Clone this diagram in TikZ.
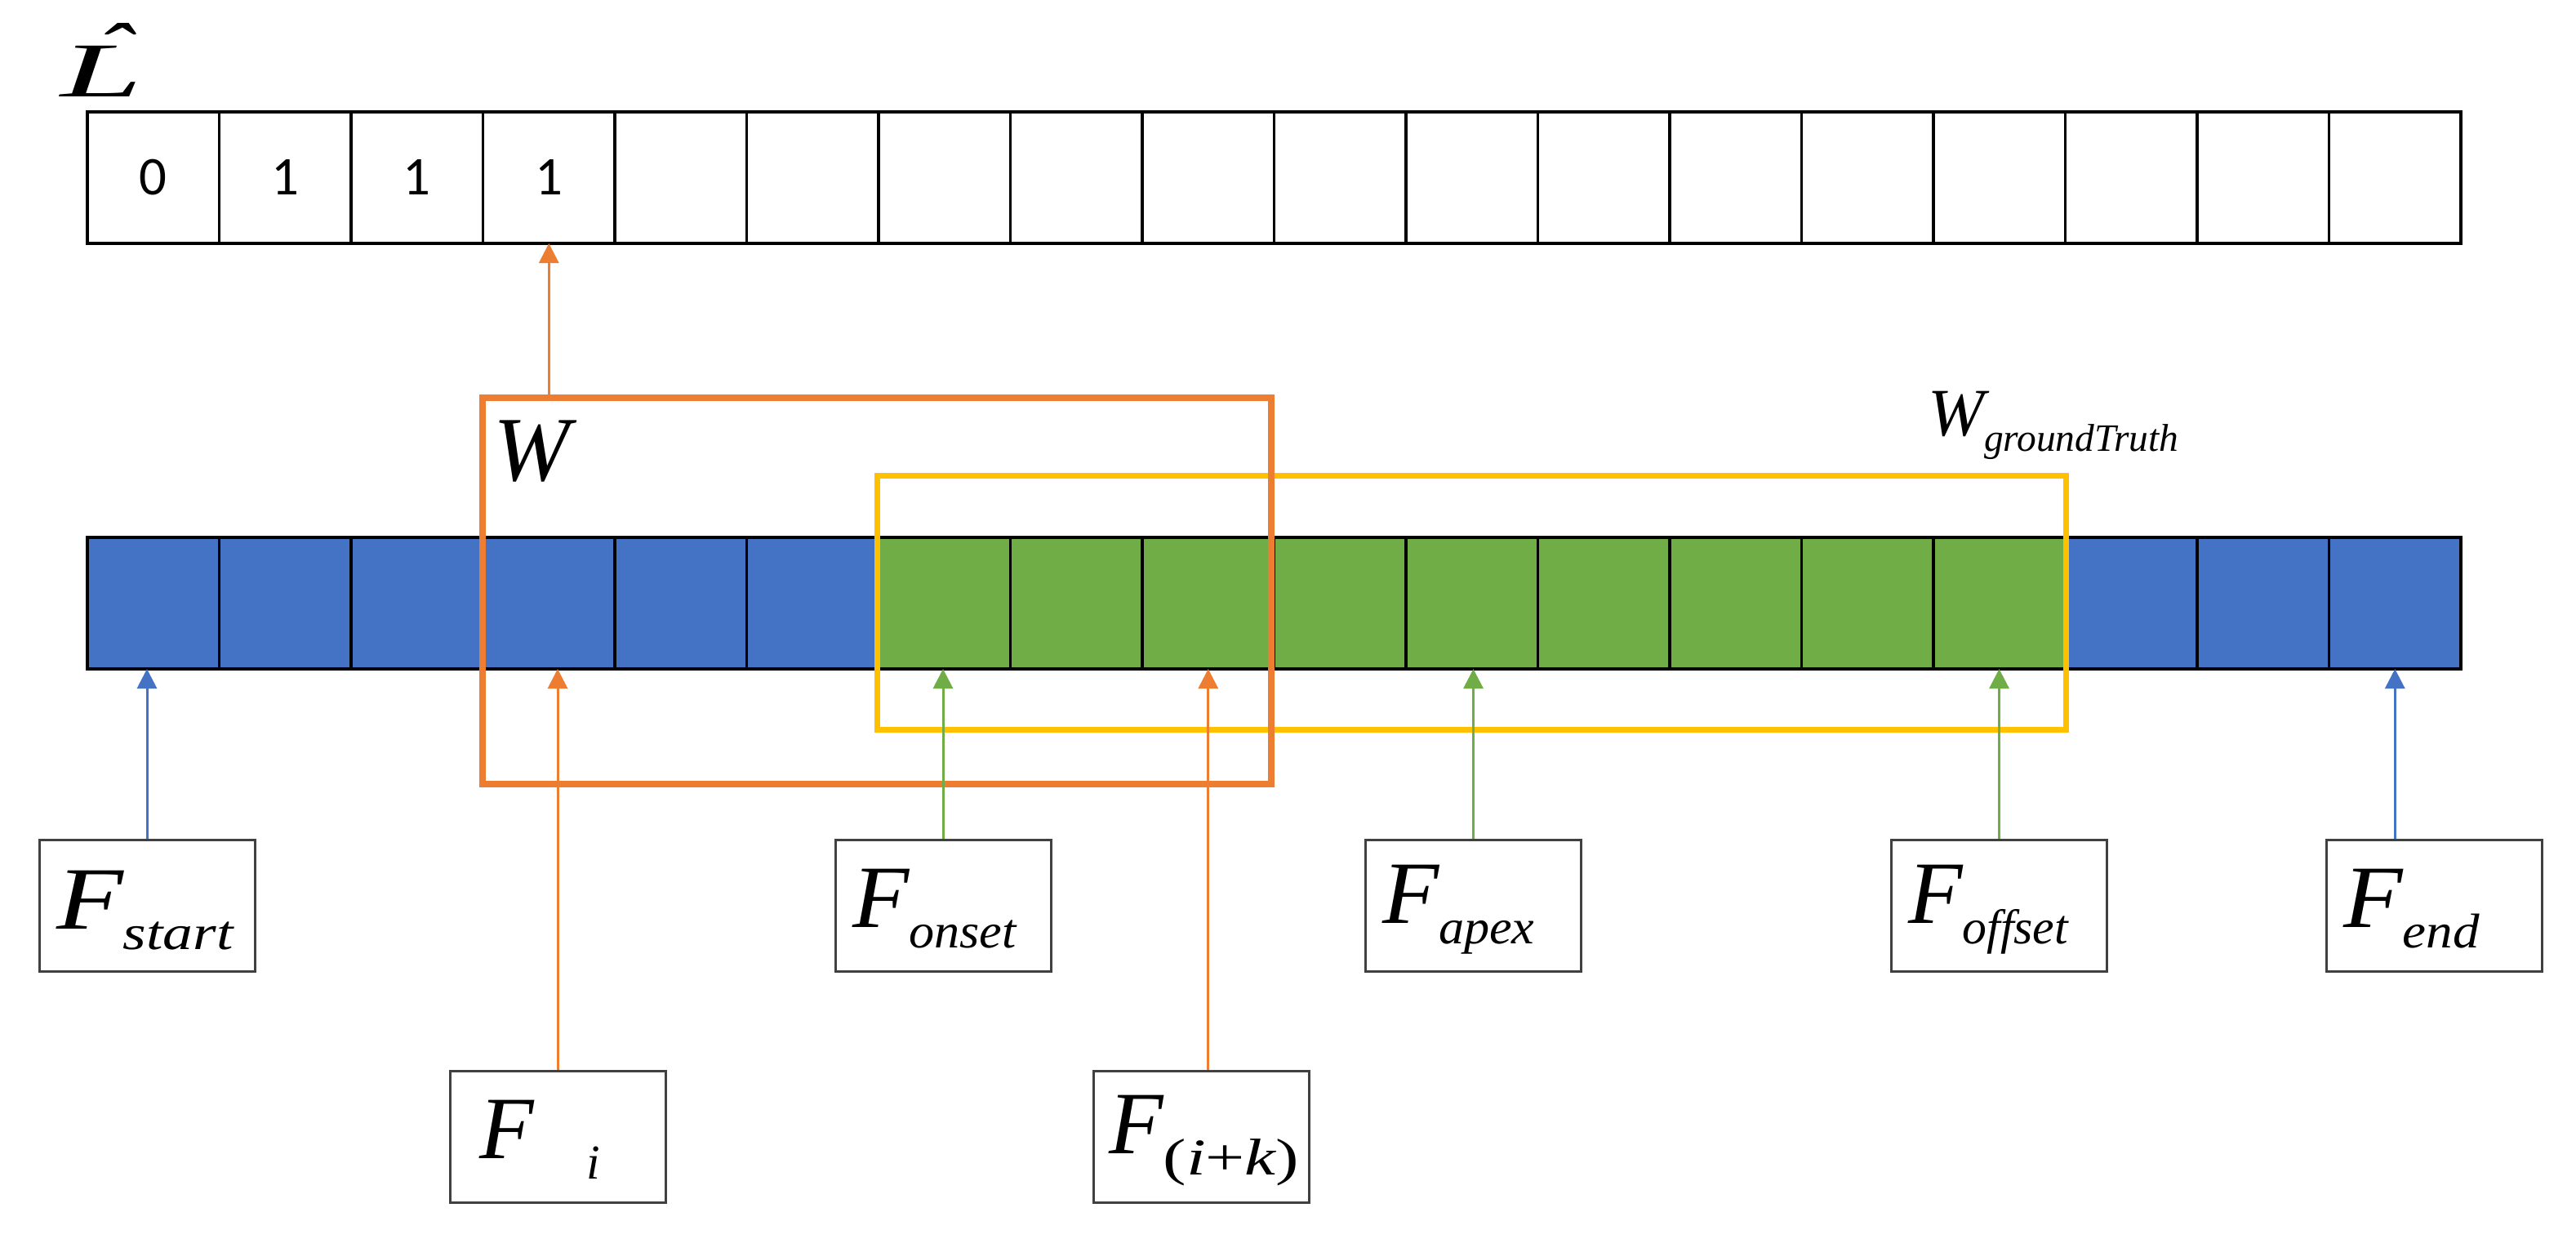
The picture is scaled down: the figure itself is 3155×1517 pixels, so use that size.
\documentclass[tikz,border=0pt]{standalone}
\usepackage{fontspec}
\setmainfont{Liberation Serif}
\newfontfamily\digitfont{Carlito}
\usepackage{graphicx}
\usetikzlibrary{arrows.meta}
\newlength\pxu \setlength\pxu{0.1mm}
\definecolor{cblue}{HTML}{4472C4}
\definecolor{cgreen}{HTML}{70AD47}
\definecolor{corange}{HTML}{ED7D31}
\definecolor{cyellow}{HTML}{FFC000}
\newcommand{\Fsub}[2]{\scalebox{#1}[1]{\fontsize{31}{31}\selectfont\itshape F\raisebox{-25\pxu}{\fontsize{17}{17}\selectfont #2}}}
\tikzset{
  cellbase/.style={draw=black, line width=0.35mm, minimum width=16.15mm, minimum height=16.1mm, inner sep=0pt, outer sep=0pt, anchor=north west},
  topcell/.style={cellbase, fill=white},
  bluecell/.style={cellbase, fill=cblue},
  greencell/.style={cellbase, fill=cgreen},
  fbox/.style={draw=black!75, line width=0.3mm, minimum width=26.4mm, minimum height=16.1mm, inner sep=0pt, fill=white},
  conn/.style={line width=0.3mm, -{Triangle[length=2.4mm, width=2.4mm]}},
  lab/.style={anchor=base west, inner sep=0pt, outer sep=0pt},
  digit/.style={font=\digitfont\fontsize{19}{19}\selectfont, inner sep=0pt},
  winbox/.style={draw=corange, line width=0.8mm, inner sep=0pt, fill=none},
  gtbox/.style={draw=cyellow, line width=0.7mm, inner sep=0pt, fill=none},
}
\begin{document}
\begin{tikzpicture}[x=0.1mm, y=-0.1mm]
\useasboundingbox (0,0) rectangle (3155,1517);

% top row (L hat)
\foreach \i in {1,...,18} {
  \pgfmathsetmacro\xx{107+(\i-1)*161.5}
  \node[topcell] (t\i) at (\xx,137) {};
}
\node[digit] (d1) at (t1.center) {0};
\node[digit] (d2) at (t2.center) {1};
\node[digit] (d3) at (t3.center) {1};
\node[digit] (d4) at (t4.center) {1};

% L hat label (one text node: letter with its hat)
\node[lab] (lhat) at (75,118) {\fontsize{27}{27}\selectfont\itshape\rlap{\hspace{65\pxu}\makebox[0pt]{\raisebox{24\pxu}{\scalebox{1.4}[1]{ˆ}}}}\scalebox{1.9}[1]{L}};

% bottom row (frames)
\foreach \i in {1,...,6} {
  \pgfmathsetmacro\xx{107+(\i-1)*161.5}
  \node[bluecell] (b\i) at (\xx,658) {};
}
\foreach \i in {7,...,15} {
  \pgfmathsetmacro\xx{107+(\i-1)*161.5}
  \node[greencell] (b\i) at (\xx,658) {};
}
\foreach \i in {16,...,18} {
  \pgfmathsetmacro\xx{107+(\i-1)*161.5}
  \node[bluecell] (b\i) at (\xx,658) {};
}

% ground truth window
\node[gtbox, minimum width=145.6mm, minimum height=31.1mm] (gtbox) at (1802,737.5) {};
\node[lab] (gtlab) at (2361,533) {\fontsize{23.6}{23.6}\selectfont\itshape W\raisebox{-19\pxu}{\fontsize{13.5}{13.5}\selectfont groundTruth}};

% sliding window
\node[winbox, minimum width=96.6mm, minimum height=47.3mm] (wbox) at (1074,723.5) {};
\node[lab] (wlab) at (604,588) {\fontsize{32}{32}\selectfont\itshape W};

% frame boxes
\node[fbox] (fstart) at (180,1108.5) {};
\node[fbox] (fonset) at (1155,1108.5) {};
\node[fbox] (fapex) at (1804.5,1108.5) {};
\node[fbox] (foffset) at (2448.5,1108.5) {};
\node[fbox] (fend) at (2981,1108.5) {};
\node[fbox] (fi) at (683,1391.5) {};
\node[fbox] (fik) at (1471,1391.5) {};

% connectors
\draw[conn, cblue] (fstart.north) -- (fstart.north |- b1.south);
\draw[conn, cgreen] (fonset.north) -- (fonset.north |- b7.south);
\draw[conn, cgreen] (fapex.north) -- (fapex.north |- b11.south);
\draw[conn, cgreen] (foffset.north) -- (foffset.north |- b15.south);
\draw[conn, cblue] (b18.south |- fend.north) -- (b18.south);
\draw[conn, corange] (fi.north) -- (fi.north |- b4.south);
\draw[conn, corange] (b9.south |- fik.north) -- (b9.south);
\draw[conn, corange] (t4.south |- wbox.north) -- (t4.south);

% frame labels
\node[lab] (lstart) at (69,1137) {\Fsub{1.23}{start}};
\node[lab] (lonset) at (1044,1135) {\Fsub{1.04}{onset}};
\node[lab] (lapex) at (1693,1130) {\Fsub{1.04}{apex}};
\node[lab] (loffset) at (2337,1130) {\Fsub{1.0}{offset}};
\node[lab] (lend) at (2870,1135) {\Fsub{1.09}{end}};
\node[lab] (li) at (587,1418) {\fontsize{31}{31}\selectfont\itshape F\hspace{65\pxu}\raisebox{-25\pxu}{\fontsize{17}{17}\selectfont i}};
\node[lab] (lik) at (1358,1412) {\fontsize{31}{31}\selectfont\itshape F\raisebox{-26\pxu}{\scalebox{1.35}[1]{\fontsize{18}{18}\selectfont\upshape(\itshape i\upshape+\itshape k\upshape)}}};
\end{tikzpicture}
\end{document}
